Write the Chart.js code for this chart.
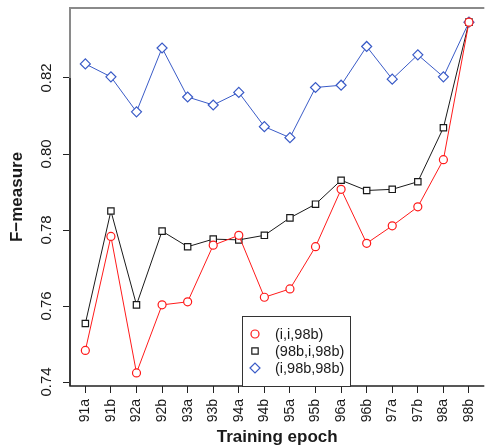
<!DOCTYPE html>
<html>
<head>
<meta charset="utf-8">
<script src="https://cdn.jsdelivr.net/npm/chart.js@4"></script>
<style>
  html, body { margin: 0; padding: 0; background: #fff; }
  #wrap { width: 492px; height: 446px; }
</style>
</head>
<body>
<div id="wrap"><canvas id="chartCanvas" width="492" height="446"></canvas></div>
<script>
const epochs = ['91a', '91b', '92a', '92b', '93a', '93b', '94a', '94b',
                '95a', '95b', '96a', '96b', '97a', '97b', '98a', '98b'];
const seriesNames = ['(i,i,98b)', '(98b,i,98b)', '(i,98b,98b)'];
const fIi98b = [0.7483, 0.7783, 0.7424, 0.7603, 0.7611, 0.7760, 0.7786, 0.7623,
                0.7645, 0.7756, 0.7907, 0.7765, 0.7811, 0.7861, 0.7985, 0.8347];
const f98bI98b = [0.7554, 0.7850, 0.7603, 0.7797, 0.7756, 0.7776, 0.7774, 0.7786,
                  0.7832, 0.7868, 0.7931, 0.7904, 0.7907, 0.7927, 0.8069, 0.8347];
const fI98b98b = [0.8237, 0.8203, 0.8111, 0.8279, 0.8150, 0.8129, 0.8162, 0.8072,
                  0.8043, 0.8175, 0.8181, 0.8283, 0.8197, 0.8261, 0.8203, 0.8347];
const yTicks = [0.74, 0.76, 0.78, 0.80, 0.82];

const RED = '#ff1a1a';
const BLACK = '#1a1a1a';
const BLUE = '#3a5bc7';

function toPoints(values) {
  return values.map((v, i) => ({ x: i, y: v }));
}

function makeSet(label, values, color, style, radius) {
  return {
    label: label,
    data: toPoints(values),
    borderColor: color,
    borderWidth: 1,
    pointStyle: style,
    pointRadius: radius,
    pointBorderColor: color,
    pointBackgroundColor: '#fff',
    pointBorderWidth: 1.2,
    tension: 0,
    fill: false
  };
}

// box, y tick labels, axis titles, legend
const extras = {
  id: 'extras',
  afterDraw(c) {
    const ctx = c.ctx;
    const a = c.chartArea;
    const ys = c.scales.y;
    ctx.save();
    ctx.lineWidth = 2;
    ctx.strokeStyle = '#8a8a8a';
    ctx.beginPath();
    ctx.moveTo(a.left, a.bottom);
    ctx.lineTo(a.left, a.top);
    ctx.lineTo(a.right, a.top);
    ctx.stroke();
    ctx.lineWidth = 1.5;
    ctx.strokeStyle = '#222';
    ctx.beginPath();
    ctx.moveTo(a.left, ys.getPixelForValue(yTicks[yTicks.length - 1]));
    ctx.lineTo(a.left, a.bottom);
    ctx.lineTo(a.right, a.bottom);
    ctx.stroke();

    ctx.fillStyle = '#1a1a1a';
    ctx.font = '15px "Liberation Sans", Arial, sans-serif';
    ctx.textAlign = 'center';
    ctx.textBaseline = 'middle';
    yTicks.forEach(v => {
      ctx.save();
      ctx.translate(47, ys.getPixelForValue(v));
      ctx.rotate(-Math.PI / 2);
      ctx.fillText(v.toFixed(2), 0, 0);
      ctx.restore();
    });

    ctx.font = 'bold 17px "Liberation Sans", Arial, sans-serif';
    ctx.fillText('Training epoch', (a.left + a.right) / 2, 437);
    ctx.save();
    ctx.translate(17, (a.top + a.bottom) / 2);
    ctx.rotate(-Math.PI / 2);
    ctx.fillText('F\u2212measure', 0, 0);
    ctx.restore();

    // legend
    const bx = 242, by = 316, bw = 108, bh = 70;
    ctx.fillStyle = '#fff';
    ctx.fillRect(bx, by, bw, bh);
    ctx.lineWidth = 1;
    ctx.strokeStyle = '#333';
    ctx.strokeRect(bx + 0.5, by + 0.5, bw, bh);
    ctx.font = '14.5px "Liberation Sans", Arial, sans-serif';
    ctx.textAlign = 'left';
    c.data.datasets.forEach((ds, i) => {
      const yy = 334 + i * 17;
      ctx.strokeStyle = ds.pointBorderColor;
      ctx.fillStyle = '#fff';
      ctx.lineWidth = 1.2;
      Chart.helpers.drawPoint(ctx, { pointStyle: ds.pointStyle, radius: ds.pointRadius, rotation: 0, borderWidth: 1.2 }, 255, yy);
      ctx.fillStyle = '#1a1a1a';
      ctx.fillText(ds.label, 275, yy + 1);
    });
    ctx.restore();
  }
};

const ctx = document.getElementById('chartCanvas').getContext('2d');
const chart = new Chart(ctx, {
  type: 'line',
  data: {
    datasets: [
      makeSet(seriesNames[0], fIi98b, RED, 'circle', 4),
      makeSet(seriesNames[1], f98bI98b, BLACK, 'rect', 4.5),
      makeSet(seriesNames[2], fI98b98b, BLUE, 'rectRot', 5)
    ]
  },
  options: {
    responsive: false,
    animation: false,
    layout: { padding: { top: 8, right: 0, left: 0, bottom: 0 } },
    plugins: {
      legend: { display: false },
      tooltip: { enabled: false }
    },
    scales: {
      x: {
        type: 'linear',
        min: -0.6,
        max: 15.6,
        afterBuildTicks: s => { s.ticks = epochs.map((e, i) => ({ value: i })); },
        afterFit: s => { s.height = 60; },
        border: { display: false },
        grid: { drawOnChartArea: false, drawTicks: true, tickLength: 7, color: '#222', tickWidth: 1 },
        ticks: {
          minRotation: 90,
          maxRotation: 90,
          padding: 6,
          autoSkip: false,
          color: '#1a1a1a',
          font: { family: '"Liberation Sans", Arial, sans-serif', size: 14 },
          callback: v => epochs[v]
        }
      },
      y: {
        min: 0.73895,
        max: 0.83842,
        afterBuildTicks: s => { s.ticks = yTicks.map(v => ({ value: v })); },
        afterFit: s => { s.width = 70; },
        border: { display: false },
        grid: { drawOnChartArea: false, drawTicks: true, tickLength: 7, color: '#222', tickWidth: 1 },
        ticks: { display: false }
      }
    }
  },
  plugins: [extras]
});
</script>
</body>
</html>
